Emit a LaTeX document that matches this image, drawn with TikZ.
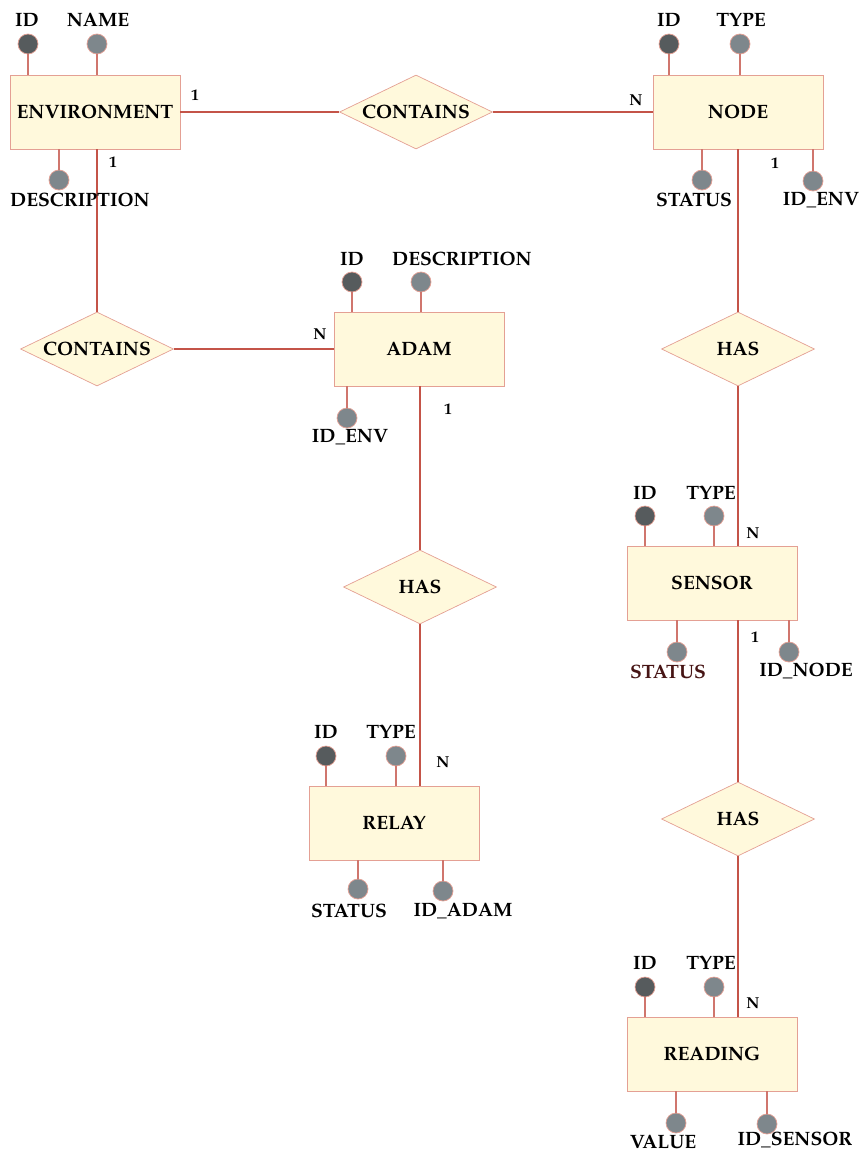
\documentclass[tikz,border=0pt]{standalone}
\usepackage[T1]{fontenc}
\usepackage{mathpazo}
\usepackage{tikz}
\usepackage{xcolor}
\usetikzlibrary{shapes.geometric}

\definecolor{linkred}{RGB}{196,84,72}
\definecolor{boxedge}{RGB}{228,160,148}
\definecolor{boxfill}{RGB}{255,249,220}
\definecolor{keygray}{RGB}{86,91,93}
\definecolor{attrgray}{RGB}{126,135,140}
\definecolor{darkbrown}{RGB}{70,20,20}

\begin{document}
\begin{tikzpicture}[x=0.02cm, y=-0.02cm,
    every node/.style={font=\fontsize{11}{13}\selectfont\bfseries},
    entity/.style={rectangle, draw=boxedge, fill=boxfill, minimum width=3.4cm, minimum height=1.48cm},
    relation/.style={diamond, draw=boxedge, fill=boxfill, inner sep=0pt, minimum width=3.06cm, minimum height=1.48cm},
    keyattr/.style={circle, draw=boxedge, fill=keygray, minimum size=0.4cm, inner sep=0pt},
    attr/.style={circle, draw=boxedge, fill=attrgray, minimum size=0.4cm, inner sep=0pt},
    card/.style={font=\fontsize{9}{10}\selectfont\bfseries},
    link/.style={draw=linkred, line width=0.9pt},
    attrline/.style={draw=linkred!80, line width=0.6pt}]
    \useasboundingbox (0,0) rectangle (863,1156);

    % entities
    \node[entity] (env) at (95,112) {ENVIRONMENT};
    \node[entity] (node) at (738,112) {NODE};
    \node[entity] (adam) at (419,349) {ADAM};
    \node[entity] (sensor) at (712,583) {SENSOR};
    \node[entity] (relay) at (394,823) {RELAY};
    \node[entity] (reading) at (712,1054) {READING};

    % relations (text kept at zero width so the diamonds keep their size)
    \node[relation] (contEnvNode) at (416,112) {\makebox[0pt]{CONTAINS}};
    \node[relation] (contEnvAdam) at (97,349) {\makebox[0pt]{CONTAINS}};
    \node[relation] (hasNode) at (738,349) {\makebox[0pt]{HAS}};
    \node[relation] (hasAdam) at (420,587) {\makebox[0pt]{HAS}};
    \node[relation] (hasSensor) at (738,819) {\makebox[0pt]{HAS}};

    \draw[link] (env.east) -- (contEnvNode.west);
    \draw[link] (contEnvNode.east) -- (node.west);
    \draw[link] (env.south -| contEnvAdam) -- (contEnvAdam.north);
    \draw[link] (contEnvAdam.east) -- (adam.west);
    \draw[link] (node.south) -- (hasNode.north);
    \draw[link] (hasNode.south) -- (sensor.north -| hasNode);
    \draw[link] (sensor.south -| hasSensor) -- (hasSensor.north);
    \draw[link] (hasSensor.south) -- (reading.north -| hasSensor);
    \draw[link] (adam.south -| hasAdam) -- (hasAdam.north);
    \draw[link] (hasAdam.south) -- (relay.north -| hasAdam);

    % cardinalities
    \node[card] (c1) at (195,95) {1};
    \node[card] (c2) at (636,100) {N};
    \node[card] (c3) at (113,162) {1};
    \node[card] (c4) at (320,334) {N};
    \node[card] (c5) at (775,163) {1};
    \node[card] (c6) at (753,533) {N};
    \node[card] (c7) at (755,637) {1};
    \node[card] (c8) at (753,1003) {N};
    \node[card] (c9) at (448,409) {1};
    \node[card] (c10) at (443,762) {N};

    % ENVIRONMENT attributes
    \node[keyattr] (envId) at (28,44) {};
    \node[attr] (envName) at (97,44) {};
    \node[attr] (envDesc) at (59,180) {};
    \node (envIdL) at (27,20) {ID};
    \node (envNameL) at (98,20) {NAME};
    \node (envDescL) at (80,200) {DESCRIPTION};
    \draw[attrline] (envId) -- (envId |- env.north);
    \draw[attrline] (envName) -- (envName |- env.north);
    \draw[attrline] (envDesc) -- (envDesc |- env.south);

    % NODE attributes
    \node[keyattr] (nodeId) at (669,44) {};
    \node[attr] (nodeType) at (740,44) {};
    \node[attr] (nodeStatus) at (702,180) {};
    \node[attr] (nodeEnv) at (813,181) {};
    \node (nodeIdL) at (669,20) {ID};
    \node (nodeTypeL) at (741,20) {TYPE};
    \node (nodeStatusL) at (694,200) {STATUS};
    \node (nodeEnvL) at (821,200) {ID\_ENV};
    \draw[attrline] (nodeId) -- (nodeId |- node.north);
    \draw[attrline] (nodeType) -- (nodeType |- node.north);
    \draw[attrline] (nodeStatus) -- (nodeStatus |- node.south);
    \draw[attrline] (nodeEnv) -- (nodeEnv |- node.south);

    % ADAM attributes
    \node[keyattr] (adamId) at (352,282) {};
    \node[attr] (adamDesc) at (421,282) {};
    \node[attr] (adamEnv) at (347,418) {};
    \node (adamIdL) at (352,259) {ID};
    \node (adamDescL) at (462,259) {DESCRIPTION};
    \node (adamEnvL) at (350,437) {ID\_ENV};
    \draw[attrline] (adamId) -- (adamId |- adam.north);
    \draw[attrline] (adamDesc) -- (adamDesc |- adam.north);
    \draw[attrline] (adamEnv) -- (adamEnv |- adam.south);

    % SENSOR attributes
    \node[keyattr] (sensId) at (645,516) {};
    \node[attr] (sensType) at (714,516) {};
    \node[attr] (sensStatus) at (677,652) {};
    \node[attr] (sensNode) at (789,652) {};
    \node (sensIdL) at (645,493) {ID};
    \node (sensTypeL) at (711,493) {TYPE};
    \node[text=darkbrown] (sensStatusL) at (668,672) {STATUS};
    \node (sensNodeL) at (806,671) {ID\_NODE};
    \draw[attrline] (sensId) -- (sensId |- sensor.north);
    \draw[attrline] (sensType) -- (sensType |- sensor.north);
    \draw[attrline] (sensStatus) -- (sensStatus |- sensor.south);
    \draw[attrline] (sensNode) -- (sensNode |- sensor.south);

    % RELAY attributes
    \node[keyattr] (relId) at (326,756) {};
    \node[attr] (relType) at (396,756) {};
    \node[attr] (relStatus) at (358,889) {};
    \node[attr] (relAdam) at (443,891) {};
    \node (relIdL) at (326,732) {ID};
    \node (relTypeL) at (391,732) {TYPE};
    \node (relStatusL) at (349,911) {STATUS};
    \node (relAdamL) at (463,911) {ID\_ADAM};
    \draw[attrline] (relId) -- (relId |- relay.north);
    \draw[attrline] (relType) -- (relType |- relay.north);
    \draw[attrline] (relStatus) -- (relStatus |- relay.south);
    \draw[attrline] (relAdam) -- (relAdam |- relay.south);

    % READING attributes
    \node[keyattr] (readId) at (645,987) {};
    \node[attr] (readType) at (714,987) {};
    \node[attr] (readValue) at (676,1123) {};
    \node[attr] (readSensor) at (767,1124) {};
    \node (readIdL) at (645,963) {ID};
    \node (readTypeL) at (711,963) {TYPE};
    \node (readValueL) at (663,1142) {VALUE};
    \node (readSensorL) at (795,1140) {ID\_SENSOR};
    \draw[attrline] (readId) -- (readId |- reading.north);
    \draw[attrline] (readType) -- (readType |- reading.north);
    \draw[attrline] (readValue) -- (readValue |- reading.south);
    \draw[attrline] (readSensor) -- (readSensor |- reading.south);
\end{tikzpicture}
\end{document}
